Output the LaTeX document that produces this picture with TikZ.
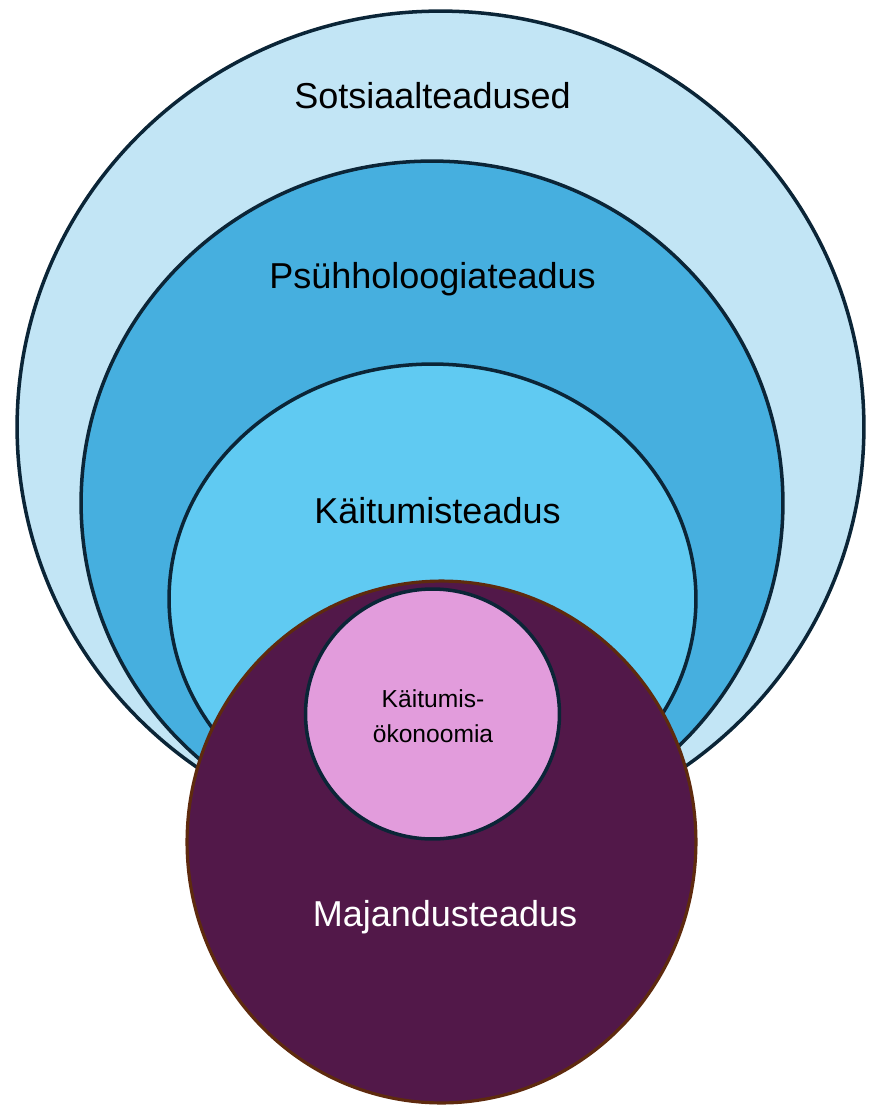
\documentclass[tikz,border=0pt]{standalone}
\usepackage{fontspec}
\setmainfont{Liberation Sans}
\usetikzlibrary{shapes.geometric}
\definecolor{socblue}{HTML}{C2E5F5}
\definecolor{psyblue}{HTML}{46AFDF}
\definecolor{behblue}{HTML}{60CAF2}
\definecolor{econpurple}{HTML}{521849}
\definecolor{econedge}{HTML}{5E2A0E}
\definecolor{bepink}{HTML}{E29CDC}
\definecolor{ringline}{HTML}{0B2537}
\tikzset{
  ring/.style={draw=ringline, ellipse, line width=2pt, inner sep=0pt},
  biglabel/.style={font=\fontsize{20.5}{24}\selectfont, anchor=base},
}
\begin{document}
\begin{tikzpicture}[x=0.02cm,y=-0.02cm]
  \useasboundingbox (0,0) rectangle (872,1110);
  \node[ring, fill=socblue, minimum width=16.94cm, minimum height=16.64cm] (soc) at (440.5,427) {};
  \node[ring, fill=psyblue, minimum width=14.04cm, minimum height=13.68cm] (psy) at (432,503) {};
  \node[ring, fill=behblue, minimum width=10.54cm, minimum height=9.40cm] (beh) at (432.5,599) {};
  \node[ring, draw=econedge, line width=1.8pt, fill=econpurple, minimum width=10.18cm, minimum height=10.44cm] (econ) at (441.5,842) {};
  \node[ring, fill=bepink, minimum width=5.08cm, minimum height=5.00cm] (beco) at (432.5,714) {};

  \node[biglabel] (socl) at (432.5,108) {Sotsiaalteadused};
  \node[biglabel] (psyl) at (432.5,288) {Psühholoogiateadus};
  \node[biglabel] (behl) at (437.5,523) {Käitumisteadus};
  \node[biglabel, text=white] (econl) at (445,926) {Majandusteadus};
  \node[anchor=base, align=center, font=\fontsize{14}{19.4}\selectfont] (becol) at (433,742) {Käitumis-\\ökonoomia};
\end{tikzpicture}
\end{document}
